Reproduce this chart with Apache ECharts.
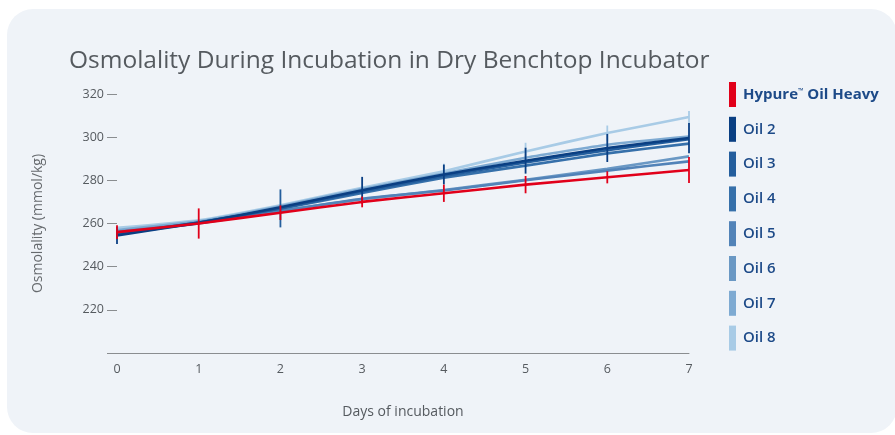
<!DOCTYPE html>
<html>
<head>
<meta charset="utf-8">
<script src="https://cdn.jsdelivr.net/npm/echarts@6/dist/echarts.min.js"></script>
<style>
  html, body { margin: 0; padding: 0; background: #ffffff; }
  #card { position: absolute; left: 7px; top: 9px; width: 890px; height: 424px; border-radius: 26px; background: #eff3f8; }
  #chart { position: absolute; left: 0; top: 0; width: 895px; height: 435px; }
</style>
</head>
<body>
<div id="card"></div>
<div id="chart"></div>
<script>
const titleText = 'Osmolality During Incubation in Dry Benchtop Incubator';
const days = [0, 1, 2, 3, 4, 5, 6, 7];
const yTicks = [220, 240, 260, 280, 300, 320];

const seriesNames = ['Hypure™ Oil Heavy', 'Oil 2', 'Oil 3', 'Oil 4', 'Oil 5', 'Oil 6', 'Oil 7', 'Oil 8'];
const seriesColors = ['#e1001a', '#0a3f83', '#245e9d', '#3670aa', '#5283b8', '#6a98c4', '#7eaad2', '#a8cbe6'];

const hypure = [256, 260, 265, 270, 274, 278, 281.4, 284.8];
const oil2   = [254.5, 260.3, 267.5, 275.4, 282.7, 289.1, 295, 299.6];
const oil3   = [255, 260.4, 267, 274.8, 282, 288.3, 294, 299];
const oil4   = [255.3, 260.5, 266.8, 274.2, 281.2, 286.8, 292.5, 297];
const oil5   = [256, 260, 265.8, 271.5, 275.3, 280, 284.5, 288.8];
const oil6   = [256.3, 260.2, 266, 271.2, 275.5, 280.3, 285.3, 291.1];
const oil7   = [257, 261, 268, 276, 283.2, 290.5, 296.5, 300.3];
const oil8   = [258, 261.5, 268.5, 276.5, 284.2, 293.4, 301.9, 309.3];

const hypureErr = [3.2, 7, 3.4, 2.5, 4, 4, 2.8, 6];
const oil2Err   = [4, null, null, 6.2, 4.6, 6, 6.5, 7];
const oil3Err   = [null, null, 8.8, null, null, null, null, null];
const oil8Err   = [null, null, null, null, 3.5, 4, 3.5, 2.8];

const values = [hypure, oil2, oil3, oil4, oil5, oil6, oil7, oil8];
const errs = [hypureErr, oil2Err, oil3Err, null, null, null, null, oil8Err];

const chart = echarts.init(document.getElementById('chart'), null, { renderer: 'canvas' });
const FONT = 'Open Sans';

const series = [];
const order = [7, 6, 5, 4, 3, 2, 1, 0];
order.forEach(function (i) {
  series.push({
    name: seriesNames[i],
    type: 'line',
    data: days.map(function (d, k) { return [d, values[i][k]]; }),
    smooth: 0.15,
    symbol: 'none',
    lineStyle: { color: seriesColors[i], width: 2.6 },
    itemStyle: { color: seriesColors[i] },
    z: 3 + (7 - i),
    silent: true
  });
  if (errs[i]) {
    const e = errs[i];
    series.push({
      name: seriesNames[i],
      type: 'custom',
      data: days.map(function (d, k) { return [d, values[i][k], e[k] == null ? 0 : e[k]]; }).filter(function (r) { return r[2] > 0; }),
      renderItem: function (params, api) {
        const x = api.value(0), v = api.value(1), er = api.value(2);
        const p1 = api.coord([x, v + er]);
        const p2 = api.coord([x, v - er]);
        return {
          type: 'line',
          shape: { x1: p1[0], y1: p1[1], x2: p2[0], y2: p2[1] },
          style: { stroke: seriesColors[i], lineWidth: 1.8 }
        };
      },
      z: 3 + (7 - i),
      silent: true
    });
  }
});

const option = {
  backgroundColor: 'transparent',
  animation: false,
  title: {
    text: titleText,
    left: 64,
    top: 44,
    textStyle: { fontFamily: FONT, fontSize: 24.5, fontWeight: 500, color: '#555a5f' }
  },
  legend: {
    orient: 'vertical',
    left: 724,
    top: 77,
    icon: 'rect',
    itemWidth: 7,
    itemHeight: 25,
    itemGap: 9.8,
    selectedMode: false,
    data: seriesNames,
    formatter: function (name) {
      if (name === seriesNames[0]) {
        return '{b|Hypure}{tm|™}{b| Oil Heavy}';
      }
      return '{n|' + name + '}';
    },
    textStyle: {
      padding: [0, 0, 0, 2],
      rich: {
        b: { fontFamily: FONT, fontSize: 15, fontWeight: 700, color: '#1d4a88' },
        tm: { fontFamily: FONT, fontSize: 7, fontWeight: 700, color: '#1d4a88', verticalAlign: 'top', padding: [0, 0, 8, 0] },
        n: { fontFamily: FONT, fontSize: 15, fontWeight: 600, color: '#1d4a88' }
      }
    }
  },
  grid: { left: 117, right: 206, top: 94, bottom: 82, containLabel: false },
  xAxis: {
    type: 'value',
    min: 0, max: 7, interval: 1,
    name: 'Days of incubation',
    nameLocation: 'middle',
    nameGap: 52,
    nameTextStyle: { fontFamily: FONT, fontSize: 14, color: '#555a5f' },
    axisLine: { show: true, lineStyle: { color: '#8a8d90', width: 1 } },
    axisTick: { show: false },
    splitLine: { show: false },
    axisLabel: { margin: 10, fontFamily: FONT, fontSize: 12.5, color: '#555a5f' }
  },
  yAxis: {
    type: 'value',
    min: 200, max: 320, interval: 20,
    name: 'Osmolality (mmol/kg)',
    nameLocation: 'middle',
    nameGap: 72,
    nameRotate: 90,
    nameTextStyle: { fontFamily: FONT, fontSize: 14, color: '#666a6e' },
    axisLine: { show: false },
    axisTick: { show: true, length: 10, lineStyle: { color: '#8a8d90', width: 1 } },
    splitLine: { show: false },
    axisLabel: {
      margin: 13,
      fontFamily: FONT, fontSize: 12.5, color: '#555a5f',
      formatter: function (v) { return yTicks.indexOf(v) >= 0 ? String(v) : ''; }
    }
  },
  series: series
};
chart.setOption(option);
</script>
</body>
</html>
